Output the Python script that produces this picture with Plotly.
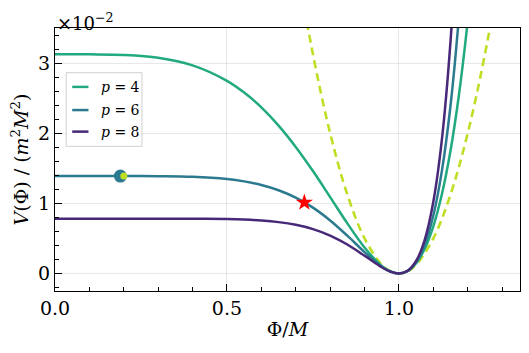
import plotly.graph_objects as go

# Field values Phi/M
phi = [0.0, 0.1, 0.2, 0.3, 0.4, 0.5, 0.55, 0.6, 0.65, 0.7, 0.75, 0.8, 0.85, 0.9,
       0.95, 0.975, 1.0, 1.025, 1.05, 1.075, 1.1, 1.125, 1.15, 1.175, 1.2, 1.225, 1.25]
# Potential values in units of 1e-2
v_p4 = [3.125, 3.124, 3.115, 3.075, 2.967, 2.747, 2.579, 2.368, 2.109, 1.805, 1.460, 1.089,
        0.714, 0.370, 0.108, 0.029, 0.0, 0.034, 0.145, 0.352, 0.673, 1.132, 1.753, 2.566,
        3.602, 4.898, 6.493]
v_p6 = [1.389, 1.389, 1.389, 1.387, 1.378, 1.346, 1.313, 1.262, 1.187, 1.081, 0.939, 0.756,
        0.539, 0.305, 0.097, 0.028, 0.0, 0.035, 0.161, 0.410, 0.827, 1.466, 2.395, 3.698,
        5.478, 7.862, 11.00]
v_p8 = [0.781, 0.781, 0.781, 0.781, 0.780, 0.775, 0.768, 0.755, 0.732, 0.694, 0.633, 0.541,
        0.413, 0.253, 0.089, 0.026, 0.0, 0.037, 0.178, 0.480, 1.022, 1.915, 3.312, 5.418,
        8.507, 12.95, 19.22]
series_labels = ["<i>p</i> = 4", "<i>p</i> = 6", "<i>p</i> = 8"]
series_colors = ["#21a97f", "#2c7a8f", "#482878"]

phi_quad = [0.7, 0.75, 0.8, 0.85, 0.9, 0.95, 0.975, 1.0, 1.025, 1.05, 1.1, 1.15, 1.2, 1.25, 1.3]
v_quad = [4.5, 3.125, 2.0, 1.125, 0.5, 0.125, 0.031, 0.0, 0.031, 0.125, 0.5, 1.125, 2.0, 3.125, 4.5]
quad_color = "#bfdf25"

circle_pt = (0.19, 1.389)
dot_pt = (0.20, 1.389)
star_pt = (0.725, 1.012)

fig = go.Figure()
fig.add_trace(go.Scatter(x=phi_quad, y=v_quad, mode="lines", line=dict(color=quad_color, width=2.6, dash="8px,5px"),
                         line_shape="spline", showlegend=False))
for vals, lab, col in zip([v_p4, v_p6, v_p8], series_labels, series_colors):
    fig.add_trace(go.Scatter(x=phi, y=vals, mode="lines", name=lab, line=dict(color=col, width=2.5),
                             line_shape="spline", showlegend=False))
fig.add_trace(go.Scatter(x=[circle_pt[0]], y=[circle_pt[1]], mode="markers",
                         marker=dict(color=series_colors[1], size=13), showlegend=False))
fig.add_trace(go.Scatter(x=[dot_pt[0]], y=[dot_pt[1]], mode="markers",
                         marker=dict(color=quad_color, size=7), showlegend=False))
fig.add_trace(go.Scatter(x=[star_pt[0]], y=[star_pt[1]], mode="markers",
                         marker=dict(color="red", size=13, symbol="star"), showlegend=False))

font_family = "DejaVu Serif"

# manual legend
shapes = [dict(type="rect", xref="paper", yref="paper", x0=0.024, x1=0.187, y0=0.55, y1=0.83,
               line=dict(color="#d0d0d0", width=1), fillcolor="rgba(255,255,255,0.85)", layer="above")]
annotations = []
leg_y = [0.776, 0.688, 0.606]
for yy, lab, col in zip(leg_y, series_labels, series_colors):
    shapes.append(dict(type="line", xref="paper", yref="paper", x0=0.037, x1=0.072, y0=yy, y1=yy,
                       line=dict(color=col, width=2.5), layer="above"))
    annotations.append(dict(xref="paper", yref="paper", x=0.095, y=yy, text=lab, showarrow=False,
                            xanchor="left", yanchor="middle", font=dict(size=14, color="black", family=font_family)))
annotations.append(dict(xref="paper", yref="paper", x=0.0, y=1.076, text="×10<sup>−2</sup>", showarrow=False,
                        xanchor="left", yanchor="top", font=dict(size=18, color="black", family=font_family)))

fig.update_layout(
    width=521, height=345,
    margin=dict(l=47, r=9, t=20, b=62),
    plot_bgcolor="white", paper_bgcolor="white",
    font=dict(family=font_family, size=19, color="black"),
    shapes=shapes, annotations=annotations,
    xaxis=dict(range=[0, 1.352], tickvals=[0, 0.5, 1.0], ticktext=["0.0", "0.5", "1.0"],
               ticks="inside", ticklen=7, tickwidth=1, tickcolor="black",
               showline=True, linecolor="black", linewidth=1, mirror=True,
               showgrid=True, gridcolor="rgba(0,0,0,0.09)", zeroline=False,
               minor=dict(dtick=0.1, tick0=0, ticks="inside", ticklen=4, tickcolor="black", showgrid=False),
               title=dict(text="Φ/<i>M</i>", standoff=4, font=dict(size=19, family=font_family)),
               tickfont=dict(size=19, family=font_family)),
    yaxis=dict(range=[-0.25, 3.5], tickvals=[0, 1, 2, 3], ticktext=["0", "1", "2", "3"],
               ticks="inside", ticklen=7, tickwidth=1, tickcolor="black",
               showline=True, linecolor="black", linewidth=1, mirror=True,
               showgrid=True, gridcolor="rgba(0,0,0,0.09)", zeroline=False,
               minor=dict(dtick=0.2, tick0=0, ticks="inside", ticklen=4, tickcolor="black", showgrid=False),
               title=dict(text="<i>V</i>(Φ) / (<i>m</i><sup>2</sup><i>M</i><sup>2</sup>)", standoff=6,
                          font=dict(size=19, family=font_family)),
               tickfont=dict(size=19, family=font_family)),
)

fig.write_html("out.html")
